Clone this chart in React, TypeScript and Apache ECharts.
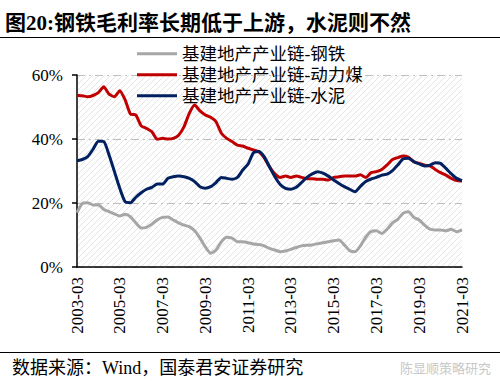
import React, { useEffect, useRef } from "react";
import * as echarts from "echarts";

const quarters: string[] = [];
for (let y = 2003; y <= 2021; y++) {
  for (const m of ["03", "06", "09", "12"]) {
    if (y === 2021 && m !== "03") continue;
    quarters.push(`${y}-${m}`);
  }
}

const seriesNames = ["基建地产产业链-钢铁", "基建地产产业链-动力煤", "基建地产产业链-水泥"];

const steel = [
  17, 19.9, 20.1, 19.4, 19.4, 18, 17.3, 16.6, 15.9, 16.5, 15.7, 13.8, 12.2, 12.4, 13.4, 14.7, 15.5, 15.6,
  14.7, 13.8, 13.1, 12.6, 11.3, 9, 6.3, 4.3, 5.3, 7.9, 9.3, 9, 7.9, 7.9, 7.6, 7.2, 7, 6.6,
  5.8, 5.3, 4.8, 5, 5.5, 6.1, 6.6, 6.8, 6.9, 7.3, 7.6, 7.9, 8.2, 8.4, 6.9, 5.1, 4.8, 6.6,
  9.3, 11.1, 11.3, 10.5, 11.8, 13.8, 14.9, 16.8, 17.3, 15.5, 14.7, 13.1, 11.8, 11.6, 11.6, 11.3, 11.8, 11, 11.6,
];

const coal = [
  53.7, 53.5, 53.2, 53.6, 54.5, 56.3, 54, 53.2, 55.1, 52.2, 47.8, 47.5, 44.1, 43.3, 42.3, 39.9, 40.2, 40,
  40.2, 41.2, 43.8, 48, 50.6, 48.8, 47.5, 46.8, 45.4, 41.8, 40.2, 39.2, 38.1, 37.8, 37.1, 36.6, 36, 34.2,
  31.3, 29.1, 28, 28.4, 28, 28.4, 28, 27.6, 27.6, 27.4, 27.4, 27.2, 28, 28.2, 28.4, 28.4, 28.4, 28.8,
  28, 29.5, 29.8, 30.5, 31.9, 33.6, 34.2, 34.7, 34.3, 32.9, 32.4, 31.8, 31.6, 30.5, 29.5, 28.7, 27.7, 27, 26.9,
];

const cement = [
  33.2, 33.6, 34.5, 36.8, 39.3, 39.2, 35, 29.8, 24.6, 20.4, 20.1, 21.8, 23.2, 24.3, 24.9, 25.9, 25.9, 27.7,
  28.2, 28.4, 28.2, 27.7, 26.7, 25.1, 24.6, 25.1, 26.4, 28, 27.7, 27.4, 28, 30.3, 32.2, 35.7, 36.1, 34.5,
  31.3, 28.2, 25.8, 24.6, 24.3, 24.9, 26.4, 28, 29.1, 29.8, 29.3, 28.4, 27.2, 26.1, 25.1, 24.3, 23.5, 25.2,
  26.7, 27.5, 28, 28.7, 29, 30.1, 31.9, 33.8, 34, 32.9, 32.2, 31.6, 31.8, 32.6, 32.4, 30.8, 29.1, 27.7, 27,
];

const colors = ["#a6a6a6", "#c00000", "#002060"];

const titleText = "图20:钢铁毛利率长期低于上游，水泥则不然";
const sourceText = "数据来源：Wind，国泰君安证券研究";
const watermarkText = "陈显顺策略研究";

const FONT = "'Liberation Serif', 'Noto Sans CJK SC', serif";

function makeHatch(): HTMLCanvasElement {
  const c = document.createElement("canvas");
  c.width = 6;
  c.height = 6;
  const ctx = c.getContext("2d")!;
  ctx.fillStyle = "#ffffff";
  ctx.fillRect(0, 0, 6, 6);
  ctx.strokeStyle = "#e4e4e4";
  ctx.lineWidth = 1;
  ctx.beginPath();
  ctx.moveTo(0, 6);
  ctx.lineTo(6, 0);
  ctx.moveTo(-1, 1);
  ctx.lineTo(1, -1);
  ctx.moveTo(5, 7);
  ctx.lineTo(7, 5);
  ctx.stroke();
  return c;
}

export default function App() {
  const ref = useRef<HTMLDivElement>(null);
  useEffect(() => {
    document.body.style.margin = "0";
    const chart = echarts.init(ref.current!, undefined, { renderer: "svg" });
    const data = [steel, coal, cement];
    const hatch = makeHatch();
    chart.setOption({
      animation: false,
      backgroundColor: "#ffffff",
      textStyle: { fontFamily: FONT },
      grid: {
        left: 77,
        right: 38,
        top: 75,
        bottom: 122,
        show: true,
        borderWidth: 0,
        outerBoundsMode: "none",
        backgroundColor: { image: hatch, repeat: "repeat", imageWidth: 6, imageHeight: 6 },
      },
      legend: {
        orient: "vertical",
        left: 132,
        top: 40,
        itemWidth: 40,
        itemHeight: 3,
        itemGap: 3.5,
        icon: "rect",
        data: seriesNames,
        textStyle: { fontFamily: FONT, fontSize: 17.5, color: "#000", lineHeight: 17 },
      },
      xAxis: {
        type: "category",
        data: quarters,
        boundaryGap: false,
        axisLine: { lineStyle: { color: "#000", width: 1.5 } },
        axisTick: { show: false },
        axisLabel: {
          interval: 7,
          rotate: 90,
          margin: 10,
          fontSize: 17,
          fontFamily: FONT,
          color: "#000",
        },
        splitLine: { show: false },
      },
      yAxis: {
        type: "value",
        min: 0,
        max: 60,
        interval: 20,
        axisLine: { show: true, lineStyle: { color: "#000", width: 1.5 } },
        axisTick: { show: true, length: 5, lineStyle: { color: "#000", width: 1.5 } },
        axisLabel: {
          formatter: "{value}%",
          margin: 14,
          fontSize: 17,
          fontFamily: FONT,
          color: "#000",
        },
        splitLine: {
          show: true,
          lineStyle: { color: "#bfbfbf", width: 1, type: [8, 4, 2, 4] },
        },
      },
      series: seriesNames.map((name, i) => ({
        name,
        type: "line",
        data: data[i],
        symbol: "none",
        smooth: 0.2,
        color: colors[i],
        lineStyle: { color: colors[i], width: 3 },
      })),
      graphic: [
        {
          type: "text",
          left: 5,
          top: 12,
          style: {
            text: titleText,
            fontSize: 21,
            fontWeight: "bold",
            fontFamily: FONT,
            fill: "#000",
          },
        },
        {
          type: "line",
          shape: { x1: 0, y1: 37.5, x2: 500, y2: 37.5 },
          style: { stroke: "#000", lineWidth: 1.2 },
        },
        {
          type: "line",
          shape: { x1: 0, y1: 352.5, x2: 500, y2: 352.5 },
          style: { stroke: "#000", lineWidth: 1 },
        },
        {
          type: "text",
          left: 12,
          top: 359,
          style: {
            text: sourceText,
            fontSize: 18,
            fontFamily: FONT,
            fill: "#000",
          },
        },
        {
          type: "text",
          left: 400,
          top: 361,
          style: {
            text: watermarkText,
            fontSize: 13,
            fontFamily: "'Noto Sans CJK SC', sans-serif",
            fill: "#c8c8c8",
          },
        },
      ],
    });
    return () => chart.dispose();
  }, []);
  return <div ref={ref} style={{ width: 500, height: 389 }} />;
}
